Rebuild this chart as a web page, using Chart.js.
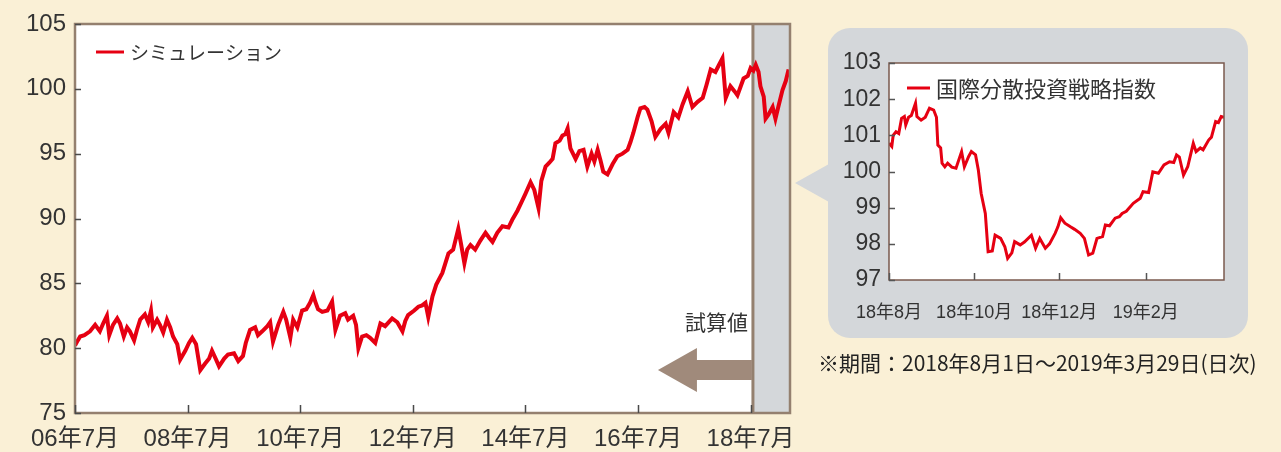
<!DOCTYPE html>
<html lang="ja">
<head>
<meta charset="utf-8">
<title>シミュレーションと国際分散投資戦略指数</title>
<script src="https://cdn.jsdelivr.net/npm/chart.js@4.4.1/dist/chart.umd.min.js"></script>
<style>
  html, body { margin: 0; padding: 0; }
  body { width: 1281px; height: 452px; background: #FAF0D6; position: relative; overflow: hidden; font-family: "Noto Sans CJK JP", sans-serif; }
  #mainWrap { position: absolute; left: 0; top: 0; width: 800px; height: 452px; }
  #bubble { position: absolute; left: 828px; top: 28px; width: 420px; height: 310px; background: #D4D7DA; border-radius: 22px; }
  #pointer { position: absolute; left: 795px; top: 164px; width: 34px; height: 38px; background: #D4D7DA; clip-path: polygon(0 50%, 100% 0, 100% 100%); }
  #insetWrap { position: absolute; left: 828px; top: 28px; width: 420px; height: 310px; }
  #note { position: absolute; left: 818px; top: 350px; font-size: 21px; line-height: 25px; color: #222; white-space: nowrap; }
</style>
</head>
<body>
<div id="mainWrap"><canvas id="mainChart" width="800" height="452"></canvas></div>
<div id="pointer"></div>
<div id="bubble"></div>
<div id="insetWrap"><canvas id="insetChart" width="420" height="310"></canvas></div>
<div id="note">※期間：2018年8月1日～2019年3月29日(日次)</div>

<script>
// main chart: months counted from 2006年7月
const mainTickMonths = [0, 24, 48, 72, 96, 120, 144];
const mainTickLabels = ['06年7月', '08年7月', '10年7月', '12年7月', '14年7月', '16年7月', '18年7月'];
const actualStart = 144.5; // 2018年8月から実績（グレー部分）

const simMonths = [
  0, 0.6, 1.1, 2.0, 3.2, 4.3, 5.3, 6.0, 6.8, 7.3, 8.1, 9.0, 9.6, 10.4, 11.1, 11.7, 12.6, 13.2, 13.9, 14.9,
  15.6, 16.2, 16.6, 17.5, 18.1, 18.8, 19.6, 20.3, 20.9, 21.8, 22.4, 23.5, 24.3, 25.0, 25.8, 26.7, 27.7, 28.6, 29.2, 30.1,
  30.7, 31.8, 32.6, 33.9, 34.8, 35.8, 36.4, 37.3, 38.4, 39.0, 39.9, 41.0, 41.6, 42.2, 43.3, 44.4, 45.0, 45.9, 46.5, 47.4,
  48.4, 49.3, 50.1, 50.8, 51.2, 51.8, 52.7, 53.8, 54.8, 55.5, 56.5, 57.6, 58.2, 59.3, 59.9, 60.4, 61.2, 62.1, 62.9, 64.0,
  65.1, 66.1, 67.6, 68.7, 69.8, 70.4, 71.0, 72.3, 73.2, 74.0, 74.7, 75.3, 76.2, 77.0, 78.3, 79.6, 80.6, 81.7, 82.3, 83.0,
  83.6, 84.3, 85.3, 86.4, 87.5, 88.3, 89.0, 90.0, 91.1, 92.4, 93.2, 94.3, 95.1, 96.0, 97.1, 97.9, 98.8, 99.4, 100.3, 101.1,
  101.8, 102.4, 103.3, 103.9, 104.5, 105.0, 105.6, 106.7, 107.5, 108.4, 109.2, 110.1, 110.7, 111.4, 112.0, 112.6, 113.5, 114.6, 115.6, 116.7,
  117.8, 118.4, 119.0, 119.9, 120.5, 121.4, 122.0, 122.9, 123.7, 124.8, 125.9, 126.5, 127.6, 128.6, 129.5, 130.6, 131.6, 132.7, 133.8, 134.6,
  135.5, 136.5, 137.2, 138.0, 138.7, 139.7, 140.6, 141.2, 141.9, 142.5, 143.4, 144.0, 144.6, 145.1, 145.7, 146.1, 146.8, 147.2, 147.8, 148.7,
  149.3, 149.9, 150.8, 151.5, 152.1
];
const simValues = [
  80.2, 80.6, 80.9, 81.0, 81.3, 81.8, 81.3, 81.9, 82.5, 81.0, 81.8, 82.3, 81.9, 80.9, 81.6, 81.3, 80.6, 81.4, 82.2, 82.6,
  82.0, 82.9, 81.6, 82.2, 81.8, 81.2, 82.2, 81.6, 80.9, 80.3, 79.1, 79.8, 80.4, 80.8, 80.3, 78.3, 78.8, 79.2, 79.8, 79.1,
  78.6, 79.2, 79.5, 79.6, 79.0, 79.4, 80.4, 81.4, 81.6, 81.0, 81.3, 81.7, 82.0, 80.5, 81.8, 82.8, 82.2, 80.8, 82.2, 81.6,
  82.9, 83.0, 83.5, 84.1, 83.6, 83.0, 82.8, 82.9, 83.6, 81.4, 82.5, 82.7, 82.2, 82.5, 81.8, 80.0, 80.9, 81.0, 80.8, 80.4,
  81.9, 81.7, 82.3, 82.0, 81.3, 82.1, 82.55, 82.9, 83.2, 83.3, 83.5, 82.4, 84.0, 84.9, 85.8, 87.3, 87.6, 89.2, 88.0, 86.55,
  87.6, 87.95, 87.6, 88.3, 88.9, 88.5, 88.2, 88.9, 89.4, 89.3, 89.9, 90.6, 91.2, 91.9, 92.8, 92.2, 90.8, 92.9, 94.0, 94.3,
  94.6, 95.8, 96.0, 96.4, 96.5, 96.95, 95.4, 94.6, 95.2, 95.3, 94.0, 95.0, 94.4, 95.3, 94.5, 93.6, 93.4, 94.2, 94.8, 95.0,
  95.3, 95.9, 96.6, 97.8, 98.5, 98.6, 98.4, 97.5, 96.3, 96.9, 97.3, 96.6, 98.2, 97.8, 98.8, 99.8, 98.6, 99.0, 99.3, 100.3,
  101.5, 101.3, 101.8, 102.35, 99.3, 100.2, 99.8, 99.5, 100.2, 100.8, 101.0, 101.6, 101.4, 101.85, 101.3, 100.2, 99.4, 97.7, 98.0, 98.6,
  97.7, 98.6, 99.9, 100.6, 101.5
];

// inset: days counted from 2018年8月1日
const insetTickDays = [0, 61, 122, 184];
const insetTickLabels = ['18年8月', '18年10月', '18年12月', '19年2月'];

const indexDays = [
  0, 2, 3, 5, 7, 9, 11, 12, 14, 16, 19, 20, 23, 26, 29, 32, 34, 35, 37, 38,
  40, 42, 45, 48, 52, 54, 57, 59, 62, 64, 66, 69, 71, 74, 76, 80, 83, 85, 88, 90,
  94, 97, 102, 105, 108, 112, 115, 119, 121, 123, 126, 130, 133, 137, 140, 143, 146, 149, 153, 155,
  158, 162, 165, 167, 170, 175, 180, 182, 186, 189, 193, 197, 201, 204, 206, 208, 211, 214, 218, 220,
  223, 225, 229, 231, 234, 236, 238, 240
];
const indexValues = [
  100.78, 100.69, 101.0, 101.1, 101.05, 101.47, 101.52, 101.29, 101.5, 101.55, 101.89, 101.52, 101.42, 101.5, 101.75, 101.7, 101.5, 100.73, 100.65, 100.23,
  100.13, 100.23, 100.12, 100.09, 100.55, 100.13, 100.41, 100.55, 100.46, 100.04, 99.4, 98.84, 97.78, 97.8, 98.24, 98.15, 97.92, 97.6, 97.75, 98.06,
  97.97, 98.05, 98.24, 97.88, 98.15, 97.88, 98.0, 98.29, 98.47, 98.72, 98.57, 98.47, 98.4, 98.29, 98.15, 97.69, 97.74, 98.15, 98.2, 98.52,
  98.5, 98.71, 98.75, 98.84, 98.9, 99.12, 99.26, 99.44, 99.42, 99.99, 99.95, 100.18, 100.27, 100.25, 100.46, 100.4, 99.9, 100.13, 100.78, 100.55,
  100.65, 100.6, 100.87, 100.95, 101.38, 101.35, 101.52, 101.5
];

const RED = '#E60012';
const GRAY = '#D4D7DA';
const FRAME = '#94806F';
const ARROW = '#A08A7B';
const TEXT = '#333333';
const AXIS_FONT = '"Liberation Sans", "Noto Sans CJK JP", sans-serif';
const JP_FONT = '"Noto Sans CJK JP", sans-serif';

function toPoints(xs, ys) {
  return xs.map((x, i) => ({ x: x, y: ys[i] }));
}

// ticks pointing into the plot, like the printed chart
function drawInnerTicks(chart, lenY, lenX, color) {
  const { ctx, chartArea: a, scales: { x, y } } = chart;
  ctx.save();
  ctx.strokeStyle = color;
  ctx.lineWidth = 1.5;
  ctx.beginPath();
  y.ticks.forEach(t => {
    const py = Math.round(y.getPixelForValue(t.value)) + 0.5;
    ctx.moveTo(a.left, py);
    ctx.lineTo(a.left + lenY, py);
  });
  x.ticks.forEach(t => {
    const px = Math.round(x.getPixelForValue(t.value)) + 0.5;
    ctx.moveTo(px, a.bottom);
    ctx.lineTo(px, a.bottom - lenX);
  });
  ctx.stroke();
  ctx.restore();
}

function drawLegend(chart, dx, dy, lineLen, font) {
  const { ctx, chartArea: a } = chart;
  const ds = chart.data.datasets[0];
  ctx.save();
  ctx.strokeStyle = ds.borderColor;
  ctx.lineWidth = 3;
  ctx.beginPath();
  ctx.moveTo(a.left + dx, a.top + dy);
  ctx.lineTo(a.left + dx + lineLen, a.top + dy);
  ctx.stroke();
  ctx.fillStyle = TEXT;
  ctx.font = font;
  ctx.textBaseline = 'middle';
  ctx.fillText(ds.label, a.left + dx + lineLen + 6, a.top + dy + 1);
  ctx.restore();
}

function drawFrame(chart, color, width) {
  const { ctx, chartArea: a } = chart;
  ctx.save();
  ctx.strokeStyle = color;
  ctx.lineWidth = width;
  ctx.strokeRect(a.left, a.top, a.width, a.height);
  ctx.restore();
}

// keep the plot box fixed: labels at the edges may overhang it
function fixXAxis(height) {
  return scale => {
    scale.height = height;
    scale.paddingLeft = 0;
    scale.paddingRight = 0;
  };
}

const mainDecor = {
  id: 'mainDecor',
  beforeDatasetsDraw(chart) {
    const { ctx, chartArea: a, scales: { x } } = chart;
    ctx.save();
    ctx.fillStyle = '#ffffff';
    ctx.fillRect(a.left, a.top, a.width, a.height);
    const gx = x.getPixelForValue(actualStart);
    ctx.fillStyle = GRAY;
    ctx.fillRect(gx, a.top, a.right - gx, a.height);
    ctx.strokeStyle = FRAME;
    ctx.lineWidth = 3;
    ctx.beginPath();
    ctx.moveTo(gx, a.top);
    ctx.lineTo(gx, a.bottom);
    ctx.stroke();
    ctx.restore();
  },
  afterDraw(chart) {
    const { ctx, chartArea: a, scales: { x } } = chart;
    drawFrame(chart, FRAME, 2.5);
    drawInnerTicks(chart, 6, 8, '#4a4a4a');
    drawLegend(chart, 21, 28, 28, '19px ' + JP_FONT);

    // 試算値 label and arrow
    const gx = x.getPixelForValue(actualStart);
    ctx.save();
    ctx.fillStyle = TEXT;
    ctx.font = '21px ' + JP_FONT;
    ctx.textAlign = 'right';
    ctx.textBaseline = 'middle';
    ctx.fillText('試算値', gx - 5, a.bottom - 91);
    const cy = a.bottom - 43;
    ctx.fillStyle = ARROW;
    ctx.beginPath();
    ctx.moveTo(gx - 95, cy);
    ctx.lineTo(gx - 56, cy - 22);
    ctx.lineTo(gx - 56, cy - 10);
    ctx.lineTo(gx - 1, cy - 10);
    ctx.lineTo(gx - 1, cy + 10);
    ctx.lineTo(gx - 56, cy + 10);
    ctx.lineTo(gx - 56, cy + 22);
    ctx.closePath();
    ctx.fill();
    ctx.restore();
  }
};

const insetDecor = {
  id: 'insetDecor',
  beforeDatasetsDraw(chart) {
    const { ctx, chartArea: a } = chart;
    ctx.save();
    ctx.fillStyle = '#ffffff';
    ctx.fillRect(a.left, a.top, a.width, a.height);
    ctx.restore();
  },
  afterDraw(chart) {
    drawFrame(chart, '#7A5A4E', 1.5);
    drawInnerTicks(chart, 6, 7, '#555555');
    drawLegend(chart, 18, 25, 23, '22px ' + JP_FONT);
  }
};

const mainChart = new Chart(document.getElementById('mainChart'), {
  type: 'line',
  data: {
    datasets: [{
      label: 'シミュレーション',
      data: toPoints(simMonths, simValues),
      borderColor: RED,
      borderWidth: 4,
      pointRadius: 0,
      tension: 0
    }]
  },
  options: {
    responsive: false,
    animation: false,
    layout: { padding: { top: 24, right: 10, left: 0, bottom: 0 } },
    plugins: { legend: { display: false }, tooltip: { enabled: false } },
    scales: {
      x: {
        type: 'linear',
        min: 0,
        max: 152.4,
        afterBuildTicks: scale => { scale.ticks = mainTickMonths.map(v => ({ value: v })); },
        afterFit: fixXAxis(39),
        grid: { display: false, drawTicks: false },
        border: { display: false },
        ticks: {
          autoSkip: false,
          maxRotation: 0,
          padding: 12,
          color: TEXT,
          font: { size: 24, family: AXIS_FONT },
          callback: v => mainTickLabels[mainTickMonths.indexOf(v)] ?? ''
        }
      },
      y: {
        min: 75,
        max: 105,
        afterFit: scale => { scale.width = 75; },
        grid: { display: false, drawTicks: false },
        border: { display: false },
        ticks: {
          stepSize: 5,
          padding: 9,
          color: TEXT,
          font: { size: 24, family: AXIS_FONT }
        }
      }
    }
  },
  plugins: [mainDecor]
});

const insetChart = new Chart(document.getElementById('insetChart'), {
  type: 'line',
  data: {
    datasets: [{
      label: '国際分散投資戦略指数',
      data: toPoints(indexDays, indexValues),
      borderColor: RED,
      borderWidth: 3,
      pointRadius: 0,
      tension: 0
    }]
  },
  options: {
    responsive: false,
    animation: false,
    layout: { padding: { top: 35, right: 24, left: 0, bottom: 0 } },
    plugins: { legend: { display: false }, tooltip: { enabled: false } },
    scales: {
      x: {
        type: 'linear',
        min: 0,
        max: 240,
        afterBuildTicks: scale => { scale.ticks = insetTickDays.map(v => ({ value: v })); },
        afterFit: fixXAxis(58),
        grid: { display: false, drawTicks: false },
        border: { display: false },
        ticks: {
          autoSkip: false,
          maxRotation: 0,
          padding: 22,
          color: TEXT,
          font: { size: 18, family: AXIS_FONT },
          callback: v => insetTickLabels[insetTickDays.indexOf(v)] ?? ''
        }
      },
      y: {
        min: 97,
        max: 103,
        afterFit: scale => { scale.width = 61; },
        grid: { display: false, drawTicks: false },
        border: { display: false },
        ticks: {
          stepSize: 1,
          padding: 8,
          color: TEXT,
          font: { size: 23, family: AXIS_FONT }
        }
      }
    }
  },
  plugins: [insetDecor]
});
</script>
</body>
</html>
